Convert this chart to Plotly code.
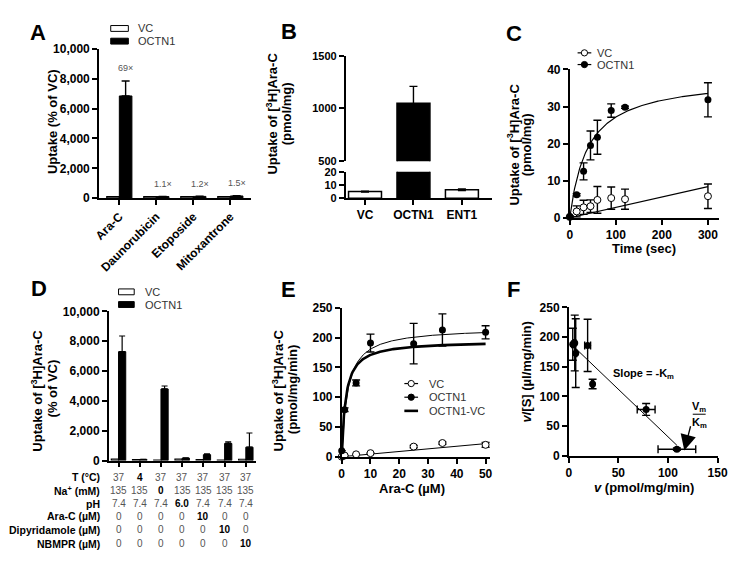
import numpy as np
import plotly.graph_objects as go

W, H = 753, 572
FONT = "Liberation Sans, Arial, Helvetica, sans-serif"

# ------------------------- data -------------------------
# Panel A
drugs_A = ["Ara-C", "Daunorubicin", "Etoposide", "Mitoxantrone"]
vc_A = [100, 100, 100, 100]
octn1_A = [6850, 110, 120, 150]
octn1_A_err = [1000, 12, 12, 15]
fold_A = ["69×", "1.1×", "1.2×", "1.5×"]

# Panel B
groups_B = ["VC", "OCTN1", "ENT1"]
uptake_B = [5.0, 1050, 6.5]
uptake_B_err = [0.3, 160, 0.6]

# Panel C
time_C = [0, 15, 30, 45, 60, 90, 120, 300]
octn1_C = [0.3, 6.2, 12.5, 19.5, 21.7, 28.9, 29.8, 31.8]
octn1_C_err = [0.2, 0.3, 2.3, 3.9, 4.6, 1.8, 0.3, 4.6]
vc_C = [0.2, 1.7, 2.8, 3.1, 4.8, 5.3, 5.0, 5.8]
vc_C_err = [0.2, 1.5, 1.9, 1.7, 3.6, 3.0, 2.7, 3.3]
fit_C_octn1_bmax, fit_C_octn1_k = 38.0, 40.0
fit_C_vc_slope = 0.028

# Panel D
conditions_D = ["Control", "4 °C", "Na-free", "pH 6.0", "+Ara-C", "+Dipyridamole", "+NBMPR"]
vc_D = [100, 60, 30, 100, 60, 40, 90]
octn1_D = [7300, 80, 4800, 170, 400, 1150, 900]
octn1_D_err = [1050, 10, 200, 20, 50, 100, 950]
row_labels_D = ["T (°C)", "Na<sup>+</sup> (mM)", "pH", "Ara-C (µM)",
                "Dipyridamole (µM)", "NBMPR (µM)"]
row_T = ["37", "4", "37", "37", "37", "37", "37"]
row_Na = ["135", "135", "0", "135", "135", "135", "135"]
row_pH = ["7.4", "7.4", "7.4", "6.0", "7.4", "7.4", "7.4"]
row_AraC = ["0", "0", "0", "0", "10", "0", "0"]
row_Dip = ["0", "0", "0", "0", "0", "10", "0"]
row_NBMPR = ["0", "0", "0", "0", "0", "0", "10"]

# Panel E
conc_E = [0, 1, 5, 10, 25, 35, 50]
octn1_E = [10, 79, 124, 191, 190, 213, 209]
octn1_E_err = [0, 3, 5, 15, 34, 27, 11]
vc_E = [0, 2, 4, 6, 17, 23, 20]
vc_E_err = [0, 0, 0, 0, 2, 2, 4]
fit_E_octn1_vmax, fit_E_octn1_km = 217.0, 2.0
fit_E_net_vmax, fit_E_net_km = 195.0, 1.4
fit_E_vc_slope = 0.44

# Panel F (Eadie-Hofstee)
v_F = [4, 6, 7, 19, 24, 78, 109]
vS_F = [188, 190, 173, 186, 121, 78, 11]
v_F_err = [1, 1, 1, 3, 1, 9, 19]
vS_F_err = [27, 47, 58, 44, 8, 10, 2]
fit_F_slope, fit_F_intercept = -1.6, 192.0

# ------------------------- helpers -------------------------
def dx(a, b):
    return [a / W, b / W]

def dy(top, bottom):
    return [1 - bottom / H, 1 - top / H]

annotations = []
shapes = []

def ann(text, xpx, ypx, size=13, bold=True, angle=0, xanchor="center",
        color="black"):
    annotations.append(dict(
        text=text, x=xpx / W, y=1 - ypx / H, xref="paper", yref="paper",
        showarrow=False, textangle=angle, xanchor=xanchor, yanchor="middle",
        font=dict(family=FONT, size=size, color=color,
                  weight="bold" if bold else "normal")))

def rect_px(x0, y0, x1, y1, fill, lw=1):
    shapes.append(dict(type="rect", xref="paper", yref="paper",
                       x0=x0 / W, x1=x1 / W, y0=1 - y1 / H, y1=1 - y0 / H,
                       fillcolor=fill, line=dict(color="black", width=lw)))

def line_px(x0, y0, x1, y1, lw=1.2):
    shapes.append(dict(type="line", xref="paper", yref="paper",
                       x0=x0 / W, x1=x1 / W, y0=1 - y0 / H, y1=1 - y1 / H,
                       line=dict(color="black", width=lw)))

def circle_px(cx, cy, r, fill):
    shapes.append(dict(type="circle", xref="paper", yref="paper",
                       x0=(cx - r) / W, x1=(cx + r) / W,
                       y0=1 - (cy + r) / H, y1=1 - (cy - r) / H,
                       fillcolor=fill, line=dict(color="black", width=1)))

AX = dict(showline=True, linecolor="black", linewidth=1.6, ticks="outside",
          ticklen=5, tickwidth=1.6, tickcolor="black", showgrid=False,
          zeroline=False, fixedrange=True,
          tickfont=dict(family=FONT, size=12, color="black", weight="bold"))

def axis(**kw):
    d = dict(AX)
    d.update(kw)
    return d

SMALLTICK = dict(family=FONT, size=11, color="black", weight="bold")

fig = go.Figure()
BW = 0.34
ERR = dict(type="data", color="black", thickness=1.4, width=4)

# ------------------------- Panel A -------------------------
fig.add_trace(go.Bar(x=drugs_A, y=vc_A, offset=-BW, width=BW,
                     marker=dict(color="white", line=dict(color="black", width=1.2)),
                     xaxis="x", yaxis="y", showlegend=False))
fig.add_trace(go.Bar(x=drugs_A, y=octn1_A, offset=0, width=BW,
                     marker=dict(color="black", line=dict(color="black", width=1)),
                     error_y=dict(array=octn1_A_err, arrayminus=[0] * 4, **ERR),
                     xaxis="x", yaxis="y", showlegend=False))
for i, lab in enumerate(fold_A):
    annotations.append(dict(text=lab, x=i + BW / 2, y=octn1_A[i] + octn1_A_err[i] + 850,
                            xref="x", yref="y", showarrow=False,
                            font=dict(family=FONT, size=9, color="#555")))

# ------------------------- Panel B -------------------------
colors_B = ["white", "black", "white"]
for ya in ["y2", "y3"]:
    fig.add_trace(go.Bar(x=groups_B, y=uptake_B, width=0.68,
                         marker=dict(color=colors_B, line=dict(color="black", width=1.5)),
                         error_y=dict(array=uptake_B_err, **ERR),
                         xaxis="x2", yaxis=ya, showlegend=False))

# ------------------------- Panel C -------------------------
t_fit = np.linspace(0, 300, 200)
fig.add_trace(go.Scatter(x=t_fit, y=fit_C_octn1_bmax * t_fit / (fit_C_octn1_k + t_fit),
                         mode="lines", line=dict(color="black", width=1.2),
                         xaxis="x3", yaxis="y4", showlegend=False))
fig.add_trace(go.Scatter(x=[0, 300], y=[0, fit_C_vc_slope * 300],
                         mode="lines", line=dict(color="black", width=1.2),
                         xaxis="x3", yaxis="y4", showlegend=False))
fig.add_trace(go.Scatter(x=time_C, y=vc_C, mode="markers",
                         error_y=dict(array=vc_C_err, **ERR),
                         marker=dict(symbol="circle", size=7, color="white",
                                     line=dict(color="black", width=1)),
                         cliponaxis=False, xaxis="x3", yaxis="y4", showlegend=False))
fig.add_trace(go.Scatter(x=time_C, y=octn1_C, mode="markers",
                         error_y=dict(array=octn1_C_err, **ERR),
                         marker=dict(symbol="circle", size=7, color="black"),
                         cliponaxis=False, xaxis="x3", yaxis="y4", showlegend=False))

# ------------------------- Panel D -------------------------
fig.add_trace(go.Bar(x=conditions_D, y=vc_D, offset=-BW, width=BW,
                     marker=dict(color="white", line=dict(color="black", width=1.2)),
                     xaxis="x4", yaxis="y5", showlegend=False))
fig.add_trace(go.Bar(x=conditions_D, y=octn1_D, offset=0, width=BW,
                     marker=dict(color="black", line=dict(color="black", width=1)),
                     error_y=dict(array=octn1_D_err, arrayminus=[0] * 7,
                                  type="data", color="black", thickness=1.2, width=3),
                     xaxis="x4", yaxis="y5", showlegend=False))

rows_D = [row_T, row_Na, row_pH, row_AraC, row_Dip, row_NBMPR]
row_y = [482, 496, 509, 522, 536, 550]
for lab, vals, ypx in zip(row_labels_D, rows_D, row_y):
    ann(lab, 98, ypx, size=10.5, bold=True, xanchor="right")
    for cond, v in zip(conditions_D, vals):
        changed = v != vals[0]
        annotations.append(dict(
            text=v, x=cond, y=1 - ypx / H, xref="x4", yref="paper",
            showarrow=False, xanchor="center", yanchor="middle",
            font=dict(family=FONT, size=10, color="black" if changed else "#555",
                      weight="bold" if changed else "normal")))

# ------------------------- Panel E -------------------------
s_fit = np.linspace(0, 50, 200)
fig.add_trace(go.Scatter(x=s_fit, y=fit_E_octn1_vmax * s_fit / (fit_E_octn1_km + s_fit),
                         mode="lines", line=dict(color="black", width=1),
                         xaxis="x5", yaxis="y6", showlegend=False))
fig.add_trace(go.Scatter(x=s_fit, y=fit_E_net_vmax * s_fit / (fit_E_net_km + s_fit),
                         mode="lines", line=dict(color="black", width=2.6),
                         xaxis="x5", yaxis="y6", showlegend=False))
fig.add_trace(go.Scatter(x=[0, 50], y=[0, fit_E_vc_slope * 50],
                         mode="lines", line=dict(color="black", width=1),
                         xaxis="x5", yaxis="y6", showlegend=False))
fig.add_trace(go.Scatter(x=conc_E, y=vc_E, mode="markers",
                         error_y=dict(array=vc_E_err, **ERR),
                         marker=dict(symbol="circle", size=7, color="white",
                                     line=dict(color="black", width=1)),
                         cliponaxis=False, xaxis="x5", yaxis="y6", showlegend=False))
fig.add_trace(go.Scatter(x=conc_E, y=octn1_E, mode="markers",
                         error_y=dict(array=octn1_E_err, **ERR),
                         marker=dict(symbol="circle", size=7, color="black"),
                         cliponaxis=False, xaxis="x5", yaxis="y6", showlegend=False))

# ------------------------- Panel F -------------------------
xf = np.array([min(v_F), max(v_F)])
fig.add_trace(go.Scatter(x=xf, y=fit_F_intercept + fit_F_slope * xf, mode="lines",
                         line=dict(color="black", width=1),
                         xaxis="x6", yaxis="y7", showlegend=False))
fig.add_trace(go.Scatter(x=v_F, y=vS_F, mode="markers",
                         error_x=dict(array=v_F_err, **ERR),
                         error_y=dict(array=vS_F_err, **ERR),
                         marker=dict(symbol="circle", size=7, color="black"),
                         cliponaxis=False, xaxis="x6", yaxis="y7", showlegend=False))
annotations.append(dict(x=116.5, y=9, ax=125, ay=64, xref="x6", yref="y7",
                        axref="x6", ayref="y7", showarrow=True, arrowhead=2,
                        arrowsize=2.4, arrowwidth=1.3, arrowcolor="black", text=" "))
annotations.append(dict(x=75, y=138, xref="x6", yref="y7", showarrow=False,
                        text="Slope = -K<sub>m</sub>",
                        font=dict(family=FONT, size=11, color="black", weight="bold")))
annotations.append(dict(x=131.5, y=82, xref="x6", yref="y7", showarrow=False,
                        text="V<sub>m</sub>",
                        font=dict(family=FONT, size=11, color="black", weight="bold")))
annotations.append(dict(x=131.5, y=56, xref="x6", yref="y7", showarrow=False,
                        text="K<sub>m</sub>",
                        font=dict(family=FONT, size=11, color="black", weight="bold")))
shapes.append(dict(type="line", xref="x6", yref="y7", x0=125, x1=138, y0=70, y1=70,
                   line=dict(color="black", width=1)))

# ------------------------- legends -------------------------
rect_px(107, 19, 125, 25, "white")
rect_px(107, 32, 125, 38, "black")
ann("VC", 133, 22, size=11, bold=False, xanchor="left", color="#333")
ann("OCTN1", 133, 35, size=11, bold=False, xanchor="left", color="#333")

rect_px(115, 289, 131, 295, "white")
rect_px(115, 302, 131, 308, "black")
ann("VC", 140, 292, size=11, bold=False, xanchor="left", color="#333")
ann("OCTN1", 140, 305, size=11, bold=False, xanchor="left", color="#333")

line_px(584, 47, 598, 47)
circle_px(591, 47, 3.2, "white")
line_px(584, 59, 598, 59)
circle_px(591, 59, 3.2, "black")
ann("VC", 602, 47, size=11, bold=False, xanchor="left", color="#333")
ann("OCTN1", 602, 59, size=11, bold=False, xanchor="left", color="#333")

line_px(407, 386, 421, 386)
circle_px(414, 386, 3.2, "white")
line_px(407, 400, 421, 400)
circle_px(414, 400, 3.2, "black")
line_px(407, 414, 421, 414, lw=2.6)
ann("VC", 430, 386, size=11, bold=False, xanchor="left", color="#333")
ann("OCTN1", 430, 400, size=11, bold=False, xanchor="left", color="#333")
ann("OCTN1-VC", 430, 414, size=11, bold=False, xanchor="left", color="#333")

# ------------------------- titles -------------------------
for letter, xp, yp in [("A", 33, 26), ("B", 289, 25), ("C", 519, 27),
                       ("D", 34, 289), ("E", 289, 290), ("F", 519, 290)]:
    ann(letter, xp, yp, size=22, bold=True)

ann("Uptake (% of VC)", 47, 118, angle=-90)
ann("Uptake of [<sup>3</sup>H]Ara-C", 272, 109, angle=-90)
ann("(pmol/mg)", 286, 109, angle=-90)
ann("Uptake of [<sup>3</sup>H]Ara-C", 518, 141, angle=-90)
ann("(pmol/mg)", 532, 141, angle=-90)
ann("Time (sec)", 652, 248)
ann("Uptake of [<sup>3</sup>H]Ara-C", 32, 393, angle=-90)
ann("(% of VC)", 47, 391, angle=-90)
ann("Uptake of [<sup>3</sup>H]Ara-C", 278, 393, angle=-90)
ann("(pmol/mg/min)", 293, 392, angle=-90)
ann("Ara-C (µM)", 415, 494)
ann("<i>v</i>/[S] (µl/mg/min)", 532, 374, angle=-90)
ann("<i>v</i> (pmol/mg/min)", 652, 493)

# ------------------------- layout -------------------------
fig.update_layout(
    width=W, height=H, autosize=False,
    margin=dict(l=0, r=0, t=0, b=0),
    paper_bgcolor="white", plot_bgcolor="white",
    barmode="overlay", showlegend=False,
    font=dict(family=FONT, color="black"),
    # A
    xaxis=axis(domain=dx(95, 250), anchor="y", type="category",
               range=[-0.55, 3.55], tickangle=-45),
    yaxis=axis(domain=dy(43, 196), anchor="x", range=[0, 10000],
               tickvals=[0, 2000, 4000, 6000, 8000, 10000], tickformat=",d"),
    # B (broken axis)
    xaxis2=axis(domain=dx(347, 497), anchor="y3", type="category",
                range=[-0.4, 2.63]),
    yaxis2=axis(domain=dy(50, 158), anchor="x2", range=[500, 1500],
                tickvals=[500, 1000, 1500], tickfont=SMALLTICK),
    yaxis3=axis(domain=dy(169, 196), anchor="x2", range=[0, 20],
                tickvals=[0, 10, 20], tickfont=SMALLTICK),
    # C
    xaxis3=axis(domain=dx(576, 728), anchor="y4", range=[0, 323],
                tickvals=[0, 100, 200, 300]),
    yaxis4=axis(domain=dy(64, 216), anchor="x3", range=[0, 40],
                tickvals=[0, 10, 20, 30, 40]),
    # D
    xaxis4=axis(domain=dx(105, 255), anchor="y5", type="category",
                range=[-0.46, 6.46], showticklabels=False),
    yaxis5=axis(domain=dy(312, 465), anchor="x4", range=[0, 10000],
                tickvals=[0, 2000, 4000, 6000, 8000, 10000], tickformat=",d"),
    # E
    xaxis5=axis(domain=dx(343, 495), anchor="y6", range=[0, 51.7],
                tickvals=[0, 10, 20, 30, 40, 50]),
    yaxis6=axis(domain=dy(308.5, 461), anchor="x5", range=[0, 250],
                tickvals=[0, 50, 100, 150, 200, 250]),
    # F
    xaxis6=axis(domain=dx(575, 727), anchor="y7", range=[0, 150],
                tickvals=[0, 50, 100, 150]),
    yaxis7=axis(domain=dy(308, 460), anchor="x6", range=[0, 250],
                tickvals=[0, 50, 100, 150, 200, 250]),
    annotations=annotations,
    shapes=shapes,
)

fig.write_html(
    "out.html",
    config={"displayModeBar": False},
    post_script="document.body.style.margin='0px';document.body.style.overflow='hidden';",
)
